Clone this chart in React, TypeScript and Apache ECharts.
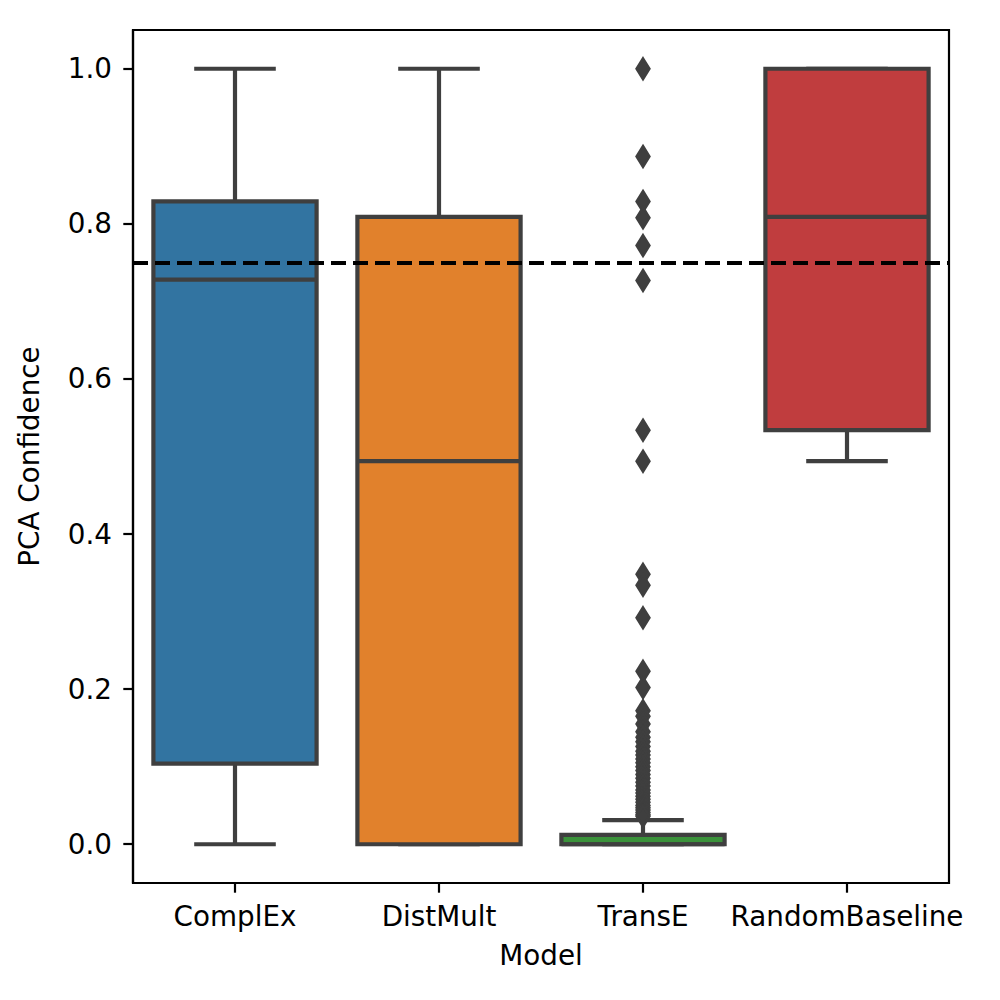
import React, { useEffect, useRef } from "react";
import * as echarts from "echarts";

const categories = ["ComplEx", "DistMult", "TransE", "RandomBaseline"];
// [min, Q1, median, Q3, max]
const boxStats = [
  [0.0, 0.104, 0.728, 0.829, 1.0],
  [0.0, 0.0, 0.494, 0.809, 1.0],
  [0.0, 0.0, 0.0, 0.012, 0.031],
  [0.494, 0.534, 0.809, 1.0, 1.0],
];
const boxColors = ["#3274a1", "#e1812c", "#3a923a", "#c03d3e"];
const transEOutliers = [
  1.0, 0.887, 0.829, 0.808, 0.772, 0.727, 0.534, 0.494, 0.348, 0.334, 0.292,
  0.223, 0.202, 0.172, 0.165, 0.155, 0.145, 0.138, 0.132, 0.126, 0.12, 0.115,
  0.11, 0.105, 0.1, 0.095, 0.09, 0.085, 0.08, 0.075, 0.07, 0.066, 0.062, 0.058,
  0.054, 0.05, 0.047, 0.044, 0.041, 0.038, 0.036,
];
const yTicks = [0.0, 0.2, 0.4, 0.6, 0.8, 1.0];
const threshold = 0.75;

const GRAY = "#3f3f3f";
const LW = 4.2;
const FONT = "DejaVu Sans";
const FS = 27.8;

export default function App() {
  const ref = useRef<HTMLDivElement>(null);
  useEffect(() => {
    if (!ref.current) return;
    const chart = echarts.init(ref.current, undefined, { renderer: "svg" });
    const renderItem = (params: any, api: any) => {
      const x = api.value(0);
      const idx = params.dataIndex;
      const pMin = api.coord([x, api.value(1)]);
      const pQ1 = api.coord([x, api.value(2)]);
      const pMed = api.coord([x, api.value(3)]);
      const pQ3 = api.coord([x, api.value(4)]);
      const pMax = api.coord([x, api.value(5)]);
      const bw = api.size([1, 0])[0] * 0.8;
      const cx = pMed[0];
      const lineStyle = { stroke: GRAY, lineWidth: LW, fill: null };
      return {
        type: "group",
        children: [
          { type: "line", shape: { x1: cx, y1: pQ1[1], x2: cx, y2: pMin[1] }, style: lineStyle },
          { type: "line", shape: { x1: cx, y1: pQ3[1], x2: cx, y2: pMax[1] }, style: lineStyle },
          { type: "line", shape: { x1: cx - bw / 4, y1: pMin[1], x2: cx + bw / 4, y2: pMin[1] }, style: lineStyle },
          { type: "line", shape: { x1: cx - bw / 4, y1: pMax[1], x2: cx + bw / 4, y2: pMax[1] }, style: lineStyle },
          {
            type: "rect",
            shape: { x: cx - bw / 2, y: pQ3[1], width: bw, height: pQ1[1] - pQ3[1] },
            style: { fill: boxColors[idx], stroke: GRAY, lineWidth: LW },
          },
          { type: "line", shape: { x1: cx - bw / 2, y1: pMed[1], x2: cx + bw / 2, y2: pMed[1] }, style: lineStyle },
        ],
      };
    };
    chart.setOption({
      animation: false,
      backgroundColor: "#ffffff",
      grid: {
        left: 133,
        right: 51,
        top: 30,
        bottom: 117,
        show: true,
        borderColor: "#000",
        borderWidth: 2.2,
        backgroundColor: "transparent",
      },
      xAxis: {
        type: "category",
        data: categories,
        boundaryGap: true,
        name: "Model",
        nameLocation: "middle",
        nameGap: 58,
        nameTextStyle: { fontFamily: FONT, fontSize: FS, color: "#000" },
        axisLine: { show: true, onZero: false, lineStyle: { color: "#000", width: 2.2 } },
        axisTick: { show: true, alignWithLabel: true, interval: 0, length: 9.7, lineStyle: { color: "#000", width: 2.2 } },
        axisLabel: { fontFamily: FONT, fontSize: FS, color: "#000", margin: 19, interval: 0 },
        splitLine: { show: false },
      },
      yAxis: {
        type: "value",
        min: -0.05,
        max: 1.05,
        name: "PCA Confidence",
        nameLocation: "middle",
        nameGap: 90,
        nameRotate: 90,
        nameTextStyle: { fontFamily: FONT, fontSize: FS, color: "#000" },
        axisLine: { show: true, onZero: false, lineStyle: { color: "#000", width: 2.2 } },
        axisTick: { show: true, length: 9.7, customValues: yTicks, lineStyle: { color: "#000", width: 2.2 } },
        axisLabel: {
          fontFamily: FONT,
          fontSize: FS,
          color: "#000",
          margin: 21,
          customValues: yTicks,
          formatter: (v: number) => v.toFixed(1),
        },
        splitLine: { show: false },
      },
      series: [
        {
          type: "custom",
          renderItem,
          data: boxStats.map((s, i) => [i, ...s]),
          encode: { x: 0, y: [1, 2, 3, 4, 5] },
          z: 2,
        },
        {
          type: "scatter",
          data: transEOutliers.map((v) => [2, v]),
          symbol: "diamond",
          symbolSize: [13, 21],
          itemStyle: { color: GRAY, borderColor: GRAY, borderWidth: 2.5, opacity: 1 },
          z: 3,
          markLine: {
            silent: true,
            symbol: ["none", "none"],
            label: { show: false },
            lineStyle: { color: "#000", width: 4, type: [15, 7] },
            data: [{ yAxis: threshold }],
            z: 5,
          },
        },
      ],
    });
    return () => chart.dispose();
  }, []);
  return (
    <div
      ref={ref}
      style={{ position: "fixed", left: 0, top: 0, width: 1000, height: 1000 }}
    />
  );
}
